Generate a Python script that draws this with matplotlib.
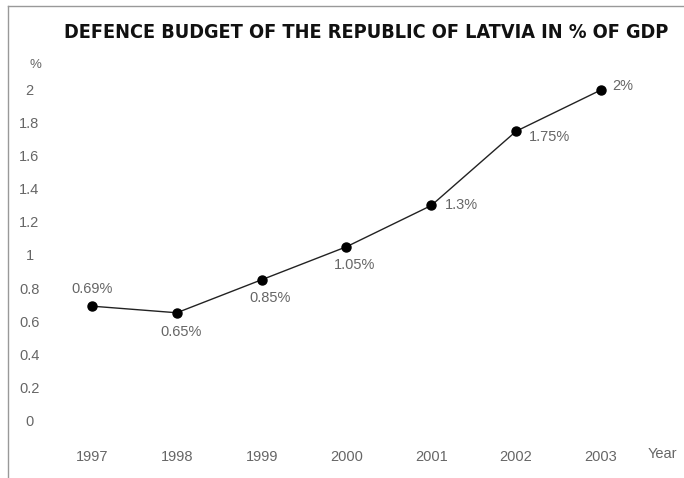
import matplotlib
matplotlib.use("Agg")
import matplotlib.pyplot as plt
from matplotlib.lines import Line2D

years = [1997, 1998, 1999, 2000, 2001, 2002, 2003]
values = [0.69, 0.65, 0.85, 1.05, 1.3, 1.75, 2.0]
labels = ["0.69%", "0.65%", "0.85%", "1.05%", "1.3%", "1.75%", "2%"]
yticks = [0, 0.2, 0.4, 0.6, 0.8, 1, 1.2, 1.4, 1.6, 1.8, 2]
ytick_labels = ["0", "0.2", "0.4", "0.6", "0.8", "1", "1.2", "1.4", "1.6", "1.8", "2"]
title = "DEFENCE BUDGET OF THE REPUBLIC OF LATVIA IN % OF GDP"

W, H = 684, 478
fig = plt.figure(figsize=(W / 100, H / 100), dpi=100)
fig.patch.set_facecolor("white")

def px(x, y):
    return x / W, 1 - y / H

left, right, top, bottom = 60, 670, 70, 440
ax = fig.add_axes([left / W, 1 - bottom / H, (right - left) / W, (bottom - top) / H])
ax.set_xlim(1996.623, 2003.814)
ax.set_ylim(-0.121, 2.121)
for s in ax.spines.values():
    s.set_visible(False)

txt_color = "#666666"
font = "Liberation Sans"
fs = 10.5

ax.plot(years, values, color="#222222", lw=1.0, marker="o", markersize=6.5,
        markerfacecolor="black", markeredgecolor="black")

ax.set_xticks(years)
ax.set_xticklabels([str(y) for y in years])
ax.set_yticks(yticks)
ax.set_yticklabels(ytick_labels)
ax.tick_params(axis="both", length=0, labelsize=fs, labelcolor=txt_color)
ax.tick_params(axis="x", pad=7)
ax.tick_params(axis="y", pad=22)
for lab in ax.get_yticklabels():
    lab.set_horizontalalignment("center")
    lab.set_fontfamily(font)
for lab in ax.get_xticklabels():
    lab.set_fontfamily(font)

# point labels
offsets = [(0, 12, "center"), (3, -14, "center"), (6, -13, "center"), (6, -13, "center"),
           (10, 0, "left"), (9, -4, "left"), (8, 3, "left")]
for x, v, lab, (dx, dy, ha) in zip(years, values, labels, offsets):
    ax.annotate(lab, (x, v), xytext=(dx, dy), textcoords="offset points",
                ha=ha, va="center", fontsize=fs, color=txt_color, family=font)

fig.text(*px(648, 454), "Year", ha="left", va="center", fontsize=fs,
         color=txt_color, family=font)
fig.text(*px(35, 65), "%", ha="center", va="center", fontsize=9.5,
         color=txt_color, family=font)

t = fig.text(*px(366, 33), title, ha="center", va="center", fontsize=16,
             family="DejaVu Sans", stretch="condensed", fontweight="bold",
             color="#111111")
fig.canvas.draw()
w = t.get_window_extent().width
t.set_fontsize(16 * 608 / w)

# frame lines
fig.add_artist(Line2D([8 / W, 8 / W], [0, 1 - 6 / H], transform=fig.transFigure,
                      color="#999999", lw=1))
fig.add_artist(Line2D([8 / W, 1], [1 - 6 / H, 1 - 6 / H], transform=fig.transFigure,
                      color="#999999", lw=1))

fig.savefig("out.png", dpi=100)
